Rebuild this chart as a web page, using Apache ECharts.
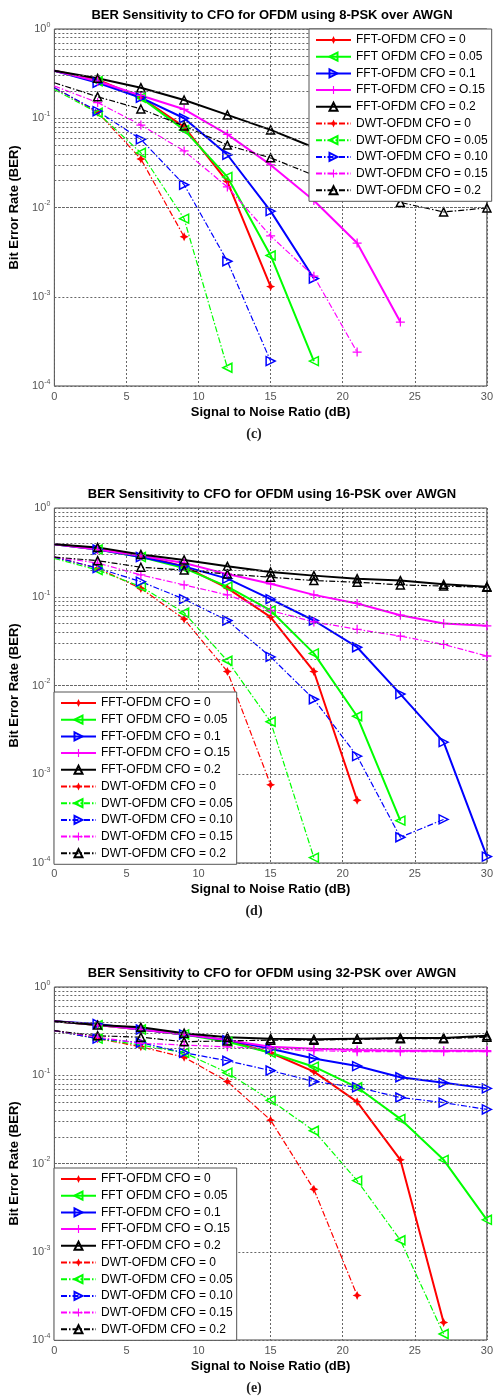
<!DOCTYPE html>
<html><head><meta charset="utf-8">
<script src="https://cdn.jsdelivr.net/npm/echarts@6/dist/echarts.min.js"></script>
<style>html,body{margin:0;padding:0;background:#fff}#c{width:496px;height:1397px}</style>
</head><body><div id="c"></div>
<script>
// SNR axis points (dB)
const snr = [0, 3, 6, 9, 12, 15, 18, 21, 24, 27, 30];
const seriesNames = ['FFT-OFDM CFO = 0', 'FFT OFDM CFO = 0.05', 'FFT-OFDM CFO = 0.1', 'FFT-OFDM CFO = O.15', 'FFT-OFDM CFO = 0.2',
  'DWT-OFDM CFO = 0', 'DWT-OFDM CFO = 0.05', 'DWT-OFDM CFO = 0.10', 'DWT-OFDM CFO = 0.15', 'DWT-OFDM CFO = 0.2'];
const chartTitles = ['BER Sensitivity to CFO for OFDM using 8-PSK over AWGN',
  'BER Sensitivity to CFO for OFDM using 16-PSK over AWGN',
  'BER Sensitivity to CFO for OFDM using 32-PSK over AWGN'];
const panelLabels = ['(c)', '(d)', '(e)'];
const xTicks = [0, 5, 10, 15, 20, 25, 30];

// (c) 8-PSK
const c_fft0   = [0.34, 0.27, 0.17, 0.080, 0.0195, 0.0013];
const c_fft005 = [0.34, 0.26, 0.17, 0.074, 0.022, 0.0029, 0.00019];
const c_fft01  = [0.34, 0.25, 0.17, 0.10, 0.039, 0.0091, 0.0016];
const c_fft015 = [0.34, 0.26, 0.18, 0.126, 0.066, 0.030, 0.012, 0.0040, 0.00052];
const c_fft02  = [0.34, 0.28, 0.22, 0.16, 0.109, 0.074, 0.047, 0.032, 0.023, 0.018, 0.015];
const c_dwt0   = [0.22, 0.117, 0.035, 0.0047];
const c_dwt005 = [0.21, 0.115, 0.041, 0.0075, 0.00016];
const c_dwt010 = [0.22, 0.12, 0.058, 0.018, 0.0025, 0.00019];
const c_dwt015 = [0.23, 0.15, 0.084, 0.043, 0.017, 0.0048, 0.0017, 0.00024];
const c_dwt02  = [0.25, 0.174, 0.127, 0.082, 0.050, 0.036, 0.023, 0.016, 0.0114, 0.0089, 0.0099];

// (d) 16-PSK
const d_fft0   = [0.39, 0.35, 0.29, 0.22, 0.125, 0.059, 0.0144, 0.00051];
const d_fft005 = [0.39, 0.34, 0.28, 0.21, 0.13, 0.070, 0.023, 0.0045, 0.00030];
const d_fft01  = [0.39, 0.34, 0.28, 0.22, 0.16, 0.094, 0.054, 0.027, 0.0080, 0.0023, 0.000118];
const d_fft015 = [0.39, 0.34, 0.29, 0.24, 0.18, 0.14, 0.105, 0.084, 0.062, 0.050, 0.047];
const d_fft02  = [0.39, 0.36, 0.30, 0.26, 0.22, 0.19, 0.173, 0.16, 0.152, 0.138, 0.13];
const d_dwt0   = [0.28, 0.21, 0.124, 0.056, 0.0144, 0.00076];
const d_dwt005 = [0.27, 0.20, 0.13, 0.066, 0.019, 0.0039, 0.000115];
const d_dwt010 = [0.28, 0.21, 0.148, 0.094, 0.054, 0.021, 0.0070, 0.0016, 0.000195, 0.00031];
const d_dwt015 = [0.28, 0.24, 0.176, 0.136, 0.105, 0.070, 0.052, 0.043, 0.036, 0.029, 0.0215];
const d_dwt02  = [0.28, 0.255, 0.215, 0.20, 0.18, 0.166, 0.152, 0.146, 0.136, 0.132, 0.128];

// (e) 32-PSK
const e_fft0   = [0.41, 0.37, 0.33, 0.29, 0.25, 0.18, 0.110, 0.050, 0.011, 0.000158];
const e_fft005 = [0.41, 0.37, 0.33, 0.29, 0.24, 0.18, 0.125, 0.073, 0.032, 0.011, 0.0023];
const e_fft01  = [0.41, 0.38, 0.33, 0.29, 0.25, 0.20, 0.155, 0.127, 0.095, 0.082, 0.071];
const e_fft015 = [0.41, 0.37, 0.33, 0.29, 0.25, 0.21, 0.20, 0.193, 0.19, 0.19, 0.19];
const e_fft02  = [0.41, 0.37, 0.35, 0.30, 0.27, 0.26, 0.255, 0.26, 0.265, 0.265, 0.28];
const e_dwt0   = [0.32, 0.26, 0.21, 0.16, 0.085, 0.031, 0.0051, 0.00032];
const e_dwt005 = [0.32, 0.26, 0.22, 0.18, 0.107, 0.052, 0.0235, 0.0064, 0.00135, 0.000117];
const e_dwt010 = [0.32, 0.26, 0.234, 0.18, 0.146, 0.113, 0.085, 0.073, 0.056, 0.049, 0.041];
const e_dwt015 = [0.32, 0.27, 0.23, 0.22, 0.21, 0.20, 0.19, 0.185, 0.185, 0.185, 0.185];
const e_dwt02  = [0.32, 0.28, 0.27, 0.24, 0.245, 0.25, 0.25, 0.255, 0.26, 0.26, 0.27];

const panels = [
  [c_fft0, c_fft005, c_fft01, c_fft015, c_fft02, c_dwt0, c_dwt005, c_dwt010, c_dwt015, c_dwt02],
  [d_fft0, d_fft005, d_fft01, d_fft015, d_fft02, d_dwt0, d_dwt005, d_dwt010, d_dwt015, d_dwt02],
  [e_fft0, e_fft005, e_fft01, e_fft015, e_fft02, e_dwt0, e_dwt005, e_dwt010, e_dwt015, e_dwt02]
];

const STAR = 'path://M5,0 L6.6,3.4 L10,5 L6.6,6.6 L5,10 L3.4,6.6 L0,5 L3.4,3.4 Z';
const PLUS = 'path://M4.3,0 H5.7 V4.3 H10 V5.7 H5.7 V10 H4.3 V5.7 H0 V4.3 H4.3 Z';
const colors = ['#ff0000', '#00ff00', '#0000ff', '#ff00ff', '#000000'];
const markers = [
  {symbol: STAR, size: 9, rot: 0, hollow: false},
  {symbol: 'triangle', size: 9, rot: 90, hollow: true},
  {symbol: 'triangle', size: 9, rot: -90, hollow: true},
  {symbol: PLUS, size: 9, rot: 0, hollow: false},
  {symbol: 'triangle', size: 8, rot: 0, hollow: true}
];

const gridsPos = [
  {left: 54, top: 29, width: 436, height: 357},
  {left: 54, top: 508, width: 436, height: 355},
  {left: 54, top: 987, width: 436, height: 353}
];
const legendPos = [
  {left: 309, top: 29},
  {left: 54, top: 692},
  {left: 54, top: 1168}
];

const FONT = 'Liberation Sans, Arial, sans-serif';
const gridLine = {color: '#666', type: [2, 2], width: 1};

const option = {
  backgroundColor: '#fff',
  animation: false,
  grid: [], xAxis: [], yAxis: [], series: [], legend: [], graphic: []
};

panels.forEach((pd, gi) => {
  const g = gridsPos[gi];
  option.grid.push(Object.assign({show: true, borderColor: '#444', borderWidth: 1, backgroundColor: '#fff'}, g));
  option.xAxis.push({
    type: 'value', gridIndex: gi, min: 0, max: 30, interval: 5,
    name: 'Signal to Noise Ratio (dB)', nameLocation: 'middle', nameGap: 20,
    nameTextStyle: {fontFamily: FONT, fontWeight: 'bold', fontSize: 13, color: '#000'},
    axisLine: {show: false}, axisTick: {show: false},
    axisLabel: {fontFamily: FONT, fontSize: 11, color: '#555', margin: 5},
    splitLine: {show: true, lineStyle: gridLine}
  });
  option.yAxis.push({
    type: 'log', logBase: 10, gridIndex: gi, min: 0.0001, max: 1,
    name: 'Bit Error Rate (BER)', nameLocation: 'middle', nameGap: 27,
    nameTextStyle: {fontFamily: FONT, fontWeight: 'bold', fontSize: 13, color: '#000'},
    axisLine: {show: false}, axisTick: {show: false},
    axisLabel: {
      margin: 4,
      formatter: v => '{b|10}{s|' + Math.round(Math.log10(v)) + '}',
      rich: {
        b: {fontFamily: FONT, fontSize: 11, color: '#555'},
        s: {fontFamily: FONT, fontSize: 7, color: '#555', padding: [0, 0, 8, 0]}
      }
    },
    splitLine: {show: true, lineStyle: gridLine}
  });
  // minor log grid lines
  const minor = [];
  for (let d = -4; d <= -1; d++) for (let k = 2; k <= 9; k++) minor.push({yAxis: k * Math.pow(10, d)});
  option.series.push({
    type: 'line', name: '_minor' + gi, xAxisIndex: gi, yAxisIndex: gi, data: [], silent: true, z: 1,
    markLine: {silent: true, symbol: ['none', 'none'], label: {show: false}, lineStyle: gridLine, data: minor, animation: false}
  });
  pd.forEach((vals, si) => {
    const ci = si % 5;
    const isDwt = si >= 5;
    const m = markers[ci];
    const col = colors[ci];
    option.series.push({
      type: 'line', name: seriesNames[si], xAxisIndex: gi, yAxisIndex: gi, z: 2,
      data: vals.map((v, j) => j === 0 ? {value: [snr[j], v], symbol: 'none'} : [snr[j], v]),
      symbol: m.symbol, symbolSize: m.size, symbolRotate: m.rot, showSymbol: true,
      clip: false,
      lineStyle: {color: col, width: isDwt ? 1.2 : 2, type: isDwt ? [6, 2, 1.5, 2] : 'solid'},
      itemStyle: m.hollow ? {color: 'rgba(255,255,255,0)', borderColor: col, borderWidth: 1.5} : {color: col, borderWidth: 0},
      emphasis: {disabled: true}
    });
  });
  option.legend.push({
    data: seriesNames, orient: 'vertical', left: legendPos[gi].left, top: legendPos[gi].top,
    z: 50, zlevel: 0,
    itemWidth: 35, itemHeight: 10, itemGap: 2.7, padding: [4, 4, 4, 6],
    backgroundColor: '#fff', borderColor: '#555', borderWidth: 1, borderRadius: 0,
    selectedMode: false,
    textStyle: {fontFamily: FONT, fontSize: 12, color: '#000', lineHeight: 14}
  });
  option.graphic.push({
    type: 'text', x: 272, y: g.top - 14,
    style: {text: chartTitles[gi], fontFamily: FONT, fontWeight: 'bold', fontSize: 13, fill: '#000', align: 'center', verticalAlign: 'middle'}
  });
  option.graphic.push({
    type: 'text', x: 254, y: g.top + g.height + 48,
    style: {text: panelLabels[gi], fontFamily: 'Liberation Serif, serif', fontWeight: 'bold', fontSize: 14, fill: '#222', align: 'center', verticalAlign: 'middle'}
  });
});

const chart = echarts.init(document.getElementById('c'), null, {renderer: 'canvas'});
chart.setOption(option);
</script></body></html>
